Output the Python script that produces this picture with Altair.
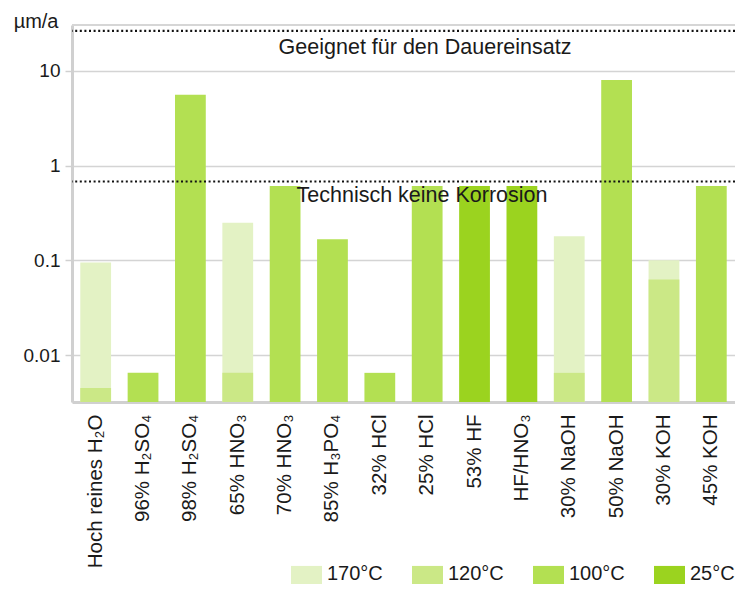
import altair as alt
import pandas as pd

cats = ["Hoch reines H₂O", "96% H₂SO₄", "98% H₂SO₄", "65% HNO₃", "70% HNO₃",
        "85% H₃PO₄", "32% HCl", "25% HCl", "53% HF", "HF/HNO₃",
        "30% NaOH", "50% NaOH", "30% KOH", "45% KOH"]

temps = ["170°C", "120°C", "100°C", "25°C"]
colors = ["#e3f2c4", "#cbe886", "#b3e052", "#9bd31f"]

t170 = [0.095, None, None, 0.25, None, None, None, None, None, None, 0.18, None, 0.1, None]
t120 = [0.0045, None, None, 0.0065, None, None, None, None, None, None, 0.0065, None, 0.063, None]
t100 = [None, 0.0065, 5.6, None, 0.61, 0.167, 0.0065, 0.61, None, None, None, 8.0, None, 0.61]
t25 = [None, None, None, None, None, None, None, None, 0.61, 0.61, None, None, None, None]

y_min, y_max = 0.0032, 30.5
limit_lines = [26.4, 0.68]
limit_texts = ["Geeignet für den Dauereinsatz", "Technisch keine Korrosion"]
y_ticks = [0.01, 0.1, 1, 10]

rows = []
for t, vals in zip(temps, [t170, t120, t100, t25]):
    for c, v in zip(cats, vals):
        if v is not None:
            rows.append({"cat": c, "temp": t, "value": v})
df = pd.DataFrame(rows)

W, H = 663, 377
FONT = "Liberation Sans"
TXT = "#1a1a1a"
GRAY = "#d0d0d0"

yscale = alt.Scale(type="log", domain=[y_min, y_max], nice=False)

bars = alt.Chart(df).mark_bar().encode(
    x=alt.X("cat:N", sort=cats, title=None,
            scale=alt.Scale(paddingInner=0.35, paddingOuter=0.175),
            axis=alt.Axis(labelAngle=-90, labelFontSize=20.5, labelColor=TXT, ticks=False,
                          domainColor=GRAY, domainWidth=3, labelPadding=12, labelLimit=300,
                          grid=False, labelFont=FONT)),
    y=alt.Y("value:Q", scale=yscale, title="µm/a",
            axis=alt.Axis(values=y_ticks, format="~g", labelFontSize=19, labelColor=TXT,
                          tickColor=GRAY, tickSize=7, tickWidth=1.5, domainColor=GRAY, domainWidth=3,
                          gridColor="#d4d4d4", gridWidth=1.5, labelPadding=5,
                          titleAngle=0, titleAlign="right", titleBaseline="alphabetic",
                          titleX=-14, titleY=2, titleFontSize=20, titleFontWeight="normal",
                          titleColor=TXT, titleFont=FONT, labelFont=FONT)),
    y2=alt.datum(y_min),
    color=alt.Color("temp:N", scale=alt.Scale(domain=temps, range=colors),
                    legend=alt.Legend(title=None, orient="none", legendX=219, legendY=533,
                                      direction="horizontal", columns=4, gridAlign="all",
                                      symbolType="M-1,-0.5H1V1.3H-1Z", symbolSize=961,
                                      symbolStrokeWidth=0, symbolOpacity=1,
                                      labelFontSize=20, labelOffset=5, labelColor=TXT,
                                      labelFont=FONT, columnPadding=29, padding=0)),
)

top_border = alt.Chart(pd.DataFrame({"v": [y_max]})).mark_rule(
    color="#d6d6d6", strokeWidth=2).encode(y=alt.Y("v:Q"))

lines = alt.Chart(pd.DataFrame({"v": limit_lines})).mark_rule(
    color="#111111", strokeWidth=2.2, strokeDash=[2, 2.6]).encode(y=alt.Y("v:Q"))

text1 = alt.Chart(pd.DataFrame({"v": [limit_lines[0]], "t": [limit_texts[0]]})).mark_text(
    fontSize=21.5, font=FONT, color=TXT, align="center", baseline="alphabetic", dy=23, x=353
).encode(y=alt.Y("v:Q"), text="t:N")

text2 = alt.Chart(pd.DataFrame({"v": [limit_lines[1]], "t": [limit_texts[1]]})).mark_text(
    fontSize=21.5, font=FONT, color=TXT, align="center", baseline="alphabetic", dy=21, x=350
).encode(y=alt.Y("v:Q"), text="t:N")

chart = alt.layer(bars, top_border, lines, text1, text2).properties(
    width=W, height=H,
    autosize=alt.AutoSizeParams(type="none"),
    padding={"left": 64, "top": 17, "right": 0, "bottom": 182},
).configure_view(stroke=None).configure(font=FONT)

chart.save("out.html", embed_options={"renderer": "svg", "actions": False})
